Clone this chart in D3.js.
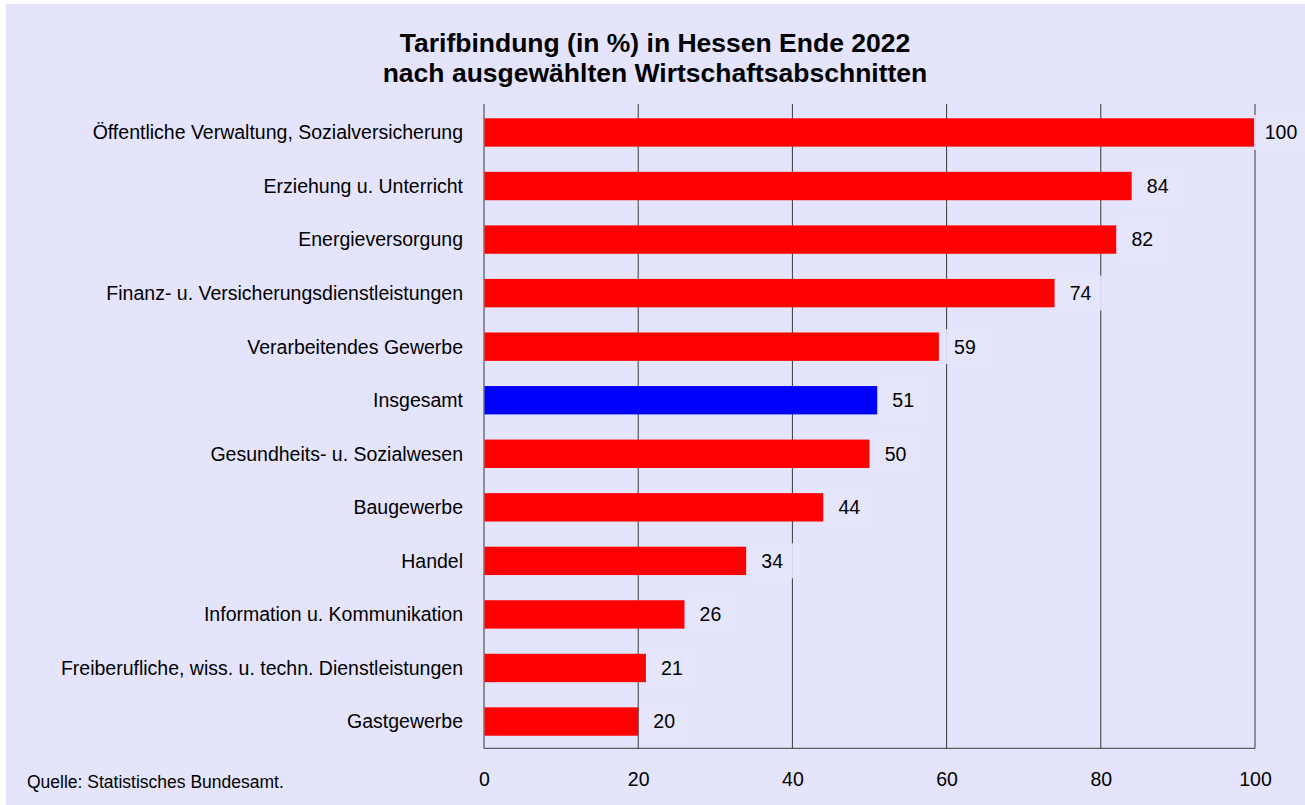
<!DOCTYPE html>
<html><head><meta charset="utf-8">
<script src="https://cdn.jsdelivr.net/npm/d3@7"></script>
<style>body{margin:0;background:#fff}svg{display:block}text{font-family:"Liberation Sans",Arial,sans-serif}</style>
</head><body><svg id="c" width="1305" height="805"></svg>
<script>
const categories = ["Öffentliche Verwaltung, Sozialversicherung","Erziehung u. Unterricht","Energieversorgung","Finanz- u. Versicherungsdienstleistungen","Verarbeitendes Gewerbe","Insgesamt","Gesundheits- u. Sozialwesen","Baugewerbe","Handel","Information u. Kommunikation","Freiberufliche, wiss. u. techn. Dienstleistungen","Gastgewerbe"];
const values = [100,84,82,74,59,51,50,44,34,26,21,20];
const highlight = ["Insgesamt"];
const tickValues = [0,20,40,60,80,100];
const titleLines = ["Tarifbindung (in %) in Hessen Ende 2022","nach ausgewählten Wirtschaftsabschnitten"];
const source = "Quelle: Statistisches Bundesamt.";

const bg = "#e4e4fc";
const svg = d3.select("#c");
svg.append("rect").attr("x",6).attr("y",4).attr("width",1299).attr("height",801).attr("fill",bg);

const x = d3.scaleLinear().domain([0,100]).range([484,1255]);
const y = d3.scaleBand().domain(categories).range([105.7,748.3]).paddingInner(0.47).paddingOuter(0.235);

// title
svg.append("g").selectAll("text").data(titleLines).join("text")
  .attr("x",655).attr("y",(d,i)=>52+i*30).attr("text-anchor","middle")
  .attr("font-size",26.5).attr("font-weight","bold").attr("fill","#000").text(d=>d);

// gridlines
const gridCol = "#3a3a3a";
svg.append("g").selectAll("line").data(tickValues).join("line")
  .attr("x1",d=>x(d)).attr("x2",d=>x(d)).attr("y1",104).attr("y2",748.3)
  .attr("stroke",gridCol).attr("stroke-width",1);
svg.append("line").attr("x1",x(0)).attr("x2",x(100)).attr("y1",748.3).attr("y2",748.3).attr("stroke",gridCol);

// x axis labels
const xAxis = d3.axisBottom(x).tickValues(tickValues).tickSize(0).tickPadding(0).tickFormat(d3.format("d"));
const ax = svg.append("g").attr("transform","translate(0,772)").call(xAxis);
ax.select(".domain").remove();
ax.selectAll("text").attr("font-size",19.5).attr("fill","#000").attr("font-family","'Liberation Sans',Arial,sans-serif");

// bars
svg.append("g").selectAll("rect").data(categories).join("rect")
  .attr("x",x(0)+0.5).attr("y",d=>y(d)).attr("height",y.bandwidth())
  .attr("width",(d,i)=>x(values[i])-x(0)-0.5)
  .attr("fill",d=>highlight.includes(d)?"#0000ff":"#ff0000");

// category labels
svg.append("g").selectAll("text").data(categories).join("text")
  .attr("x",463).attr("y",d=>y(d)+y.bandwidth()/2).attr("dy","0.35em")
  .attr("text-anchor","end").attr("font-size",19.5).attr("fill","#000").text(d=>d);

// value labels with background boxes
const vl = svg.append("g").selectAll("g").data(categories).join("g")
  .attr("transform",(d,i)=>`translate(${x(values[i])+26},${y(d)+y.bandwidth()/2})`);
vl.append("rect").attr("x",(d,i)=>values[i]>=100?-27:-22).attr("y",-17.5)
  .attr("width",(d,i)=>values[i]>=100?54:44).attr("height",35)
  .attr("fill",bg).attr("fill-opacity",0.9);
vl.append("text").attr("text-anchor","middle").attr("dy","0.35em").attr("font-size",19.5)
  .attr("fill","#000").text((d,i)=>values[i]);

// source
svg.append("text").attr("x",27).attr("y",788).attr("font-size",17.5).attr("fill","#000").text(source);
</script></body></html>
